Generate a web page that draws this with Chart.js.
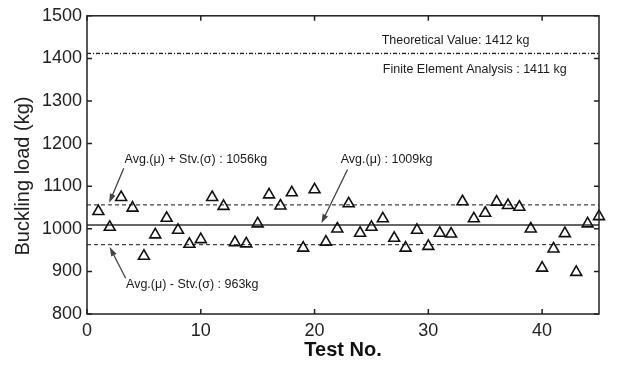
<!DOCTYPE html>
<html>
<head>
<meta charset="utf-8">
<script src="https://cdn.jsdelivr.net/npm/chart.js@4/dist/chart.umd.min.js"></script>
<style>
  html, body { margin: 0; padding: 0; background: #fff; }
</style>
</head>
<body>
<canvas id="chart" width="617" height="365"></canvas>
<script>
// data
const testNo = [1,2,3,4,5,6,7,8,9,10,11,12,13,14,15,16,17,18,19,20,21,22,23,24,25,26,27,28,29,30,31,32,33,34,35,36,37,38,39,40,41,42,43,44,45];
const bucklingLoad = [1041,1004,1074,1049,936,986,1025,997,964,975,1074,1053,968,965,1012,1080,1054,1085,955,1092,
                      969,1000,1059,990,1004,1024,978,955,997,959,990,988,1064,1024,1037,1063,1055,1051,1000,908,
                      953,989,898,1012,1029];
const avgLoad = 1009;
const upperLoad = 1056;   // avg + stdev
const lowerLoad = 963;    // avg - stdev
const theoreticalLoad = 1412;
const feaLoad = 1411;
const xRange = [0, 45];
const yRange = [800, 1500];
const xTicks = [0, 10, 20, 30, 40];
const yTicks = [800, 900, 1000, 1100, 1200, 1300, 1400, 1500];

const FONT = '"Liberation Sans", Arial, sans-serif';

// text notes and arrows, placed in data units
const notes = [
  { text: 'Theoretical Value: 1412 kg', x: 25.9, y: 1443 },
  { text: 'Finite Element Analysis : 1411 kg', x: 26.0, y: 1373 },
  { text: 'Avg.(\u03bc) + Stv.(\u03c3) : 1056kg', x: 3.3, y: 1162 },
  { text: 'Avg.(\u03bc) - Stv.(\u03c3) : 963kg', x: 3.43, y: 868 },
  { text: 'Avg.(\u03bc) : 1009kg', x: 22.3, y: 1162 }
];
const arrows = [
  { from: [3.23, 1142], to: [1.95, 1061] },
  { from: [3.4, 884], to: [2.0, 957] },
  { from: [22.9, 1139], to: [20.6, 1013] }
];

function hline(value) {
  return [{ x: xRange[0], y: value }, { x: xRange[1], y: value }];
}

const framePlugin = {
  id: 'frame',
  beforeDraw(chart) {
    const ctx = chart.ctx;
    ctx.save();
    ctx.fillStyle = '#fff';
    ctx.fillRect(0, 0, chart.width, chart.height);
    ctx.restore();
  },
  afterDatasetsDraw(chart) {
    const { ctx, chartArea: a, scales } = chart;
    ctx.save();
    ctx.strokeStyle = '#222';
    ctx.lineWidth = 1.5;
    ctx.strokeRect(a.left, a.top, a.right - a.left, a.bottom - a.top);
    // inward ticks
    ctx.beginPath();
    xTicks.forEach(v => {
      const px = scales.x.getPixelForValue(v);
      ctx.moveTo(px, a.bottom); ctx.lineTo(px, a.bottom - 5);
      ctx.moveTo(px, a.top); ctx.lineTo(px, a.top + 5);
    });
    yTicks.forEach(v => {
      const py = scales.y.getPixelForValue(v);
      ctx.moveTo(a.left, py); ctx.lineTo(a.left + 5, py);
      ctx.moveTo(a.right, py); ctx.lineTo(a.right - 5, py);
    });
    ctx.stroke();

    // notes
    ctx.fillStyle = '#1a1a1a';
    ctx.font = '12.5px ' + FONT;
    ctx.textAlign = 'left';
    ctx.textBaseline = 'middle';
    notes.forEach(n => {
      ctx.fillText(n.text, scales.x.getPixelForValue(n.x), scales.y.getPixelForValue(n.y));
    });

    // arrows
    ctx.strokeStyle = '#444';
    ctx.fillStyle = '#444';
    ctx.lineWidth = 1.3;
    arrows.forEach(ar => {
      const x1 = scales.x.getPixelForValue(ar.from[0]), y1 = scales.y.getPixelForValue(ar.from[1]);
      const x2 = scales.x.getPixelForValue(ar.to[0]), y2 = scales.y.getPixelForValue(ar.to[1]);
      const ang = Math.atan2(y2 - y1, x2 - x1);
      const hl = 9, hw = 3;
      ctx.beginPath();
      ctx.moveTo(x1, y1);
      ctx.lineTo(x2 - Math.cos(ang) * hl * 0.8, y2 - Math.sin(ang) * hl * 0.8);
      ctx.stroke();
      ctx.beginPath();
      ctx.moveTo(x2, y2);
      ctx.lineTo(x2 - Math.cos(ang) * hl - Math.sin(ang) * hw, y2 - Math.sin(ang) * hl + Math.cos(ang) * hw);
      ctx.lineTo(x2 - Math.cos(ang) * hl + Math.sin(ang) * hw, y2 - Math.sin(ang) * hl - Math.cos(ang) * hw);
      ctx.closePath();
      ctx.fill();
    });

    // y axis title
    ctx.fillStyle = '#222';
    ctx.font = '20px ' + FONT;
    ctx.textAlign = 'center';
    ctx.textBaseline = 'middle';
    ctx.translate(23, 176);
    ctx.rotate(-Math.PI / 2);
    ctx.fillText('Buckling load (kg)', 0, 0);
    ctx.restore();
  }
};

new Chart(document.getElementById('chart'), {
  data: {
    datasets: [
      {
        type: 'scatter',
        label: 'Buckling load',
        data: testNo.map((t, i) => ({ x: t, y: bucklingLoad[i] })),
        pointStyle: 'triangle',
        pointRadius: 6.3,
        pointHoverRadius: 6.3,
        borderColor: '#111',
        borderWidth: 1.6,
        backgroundColor: 'rgba(255,255,255,0)',
        clip: false
      },
      {
        type: 'line',
        label: 'Avg',
        data: hline(avgLoad),
        borderColor: '#666',
        borderWidth: 2,
        pointRadius: 0
      },
      {
        type: 'line',
        label: 'Avg + Stv',
        data: hline(upperLoad),
        borderColor: '#444',
        borderWidth: 1.3,
        borderDash: [4, 3],
        pointRadius: 0
      },
      {
        type: 'line',
        label: 'Avg - Stv',
        data: hline(lowerLoad),
        borderColor: '#444',
        borderWidth: 1.3,
        borderDash: [4, 3],
        pointRadius: 0
      },
      {
        type: 'line',
        label: 'Theoretical',
        data: hline(theoreticalLoad),
        borderColor: '#222',
        borderWidth: 1.2,
        borderDash: [4, 2, 1, 2],
        pointRadius: 0
      },
      {
        type: 'line',
        label: 'FEA',
        data: hline(feaLoad),
        borderColor: '#333',
        borderWidth: 1.1,
        borderDash: [1, 2],
        pointRadius: 0
      }
    ]
  },
  options: {
    responsive: false,
    animation: false,
    devicePixelRatio: 1,
    layout: { padding: { top: 15, right: 18, left: 0, bottom: 0 } },
    plugins: {
      legend: { display: false },
      tooltip: { enabled: false }
    },
    scales: {
      x: {
        type: 'linear',
        position: 'bottom',
        min: xRange[0],
        max: xRange[1],
        afterBuildTicks: s => { s.ticks = xTicks.map(v => ({ value: v })); },
        afterFit: s => { s.height = 51; },
        grid: { display: false, drawTicks: false },
        border: { display: false },
        ticks: {
          autoSkip: false,
          maxRotation: 0,
          padding: 6,
          color: '#222',
          font: { family: FONT, size: 18 },
          callback: v => String(v)
        },
        title: {
          display: true,
          text: 'Test No.',
          color: '#111',
          padding: 3,
          font: { family: FONT, size: 20, weight: 'bold' }
        }
      },
      y: {
        type: 'linear',
        min: yRange[0],
        max: yRange[1],
        afterBuildTicks: s => { s.ticks = yTicks.map(v => ({ value: v })); },
        afterFit: s => { s.width = 87; },
        grid: { display: false, drawTicks: false },
        border: { display: false },
        ticks: {
          autoSkip: false,
          padding: 5,
          color: '#222',
          font: { family: FONT, size: 18 },
          callback: v => String(v)
        }
      }
    }
  },
  plugins: [framePlugin]
});
</script>
</body>
</html>
